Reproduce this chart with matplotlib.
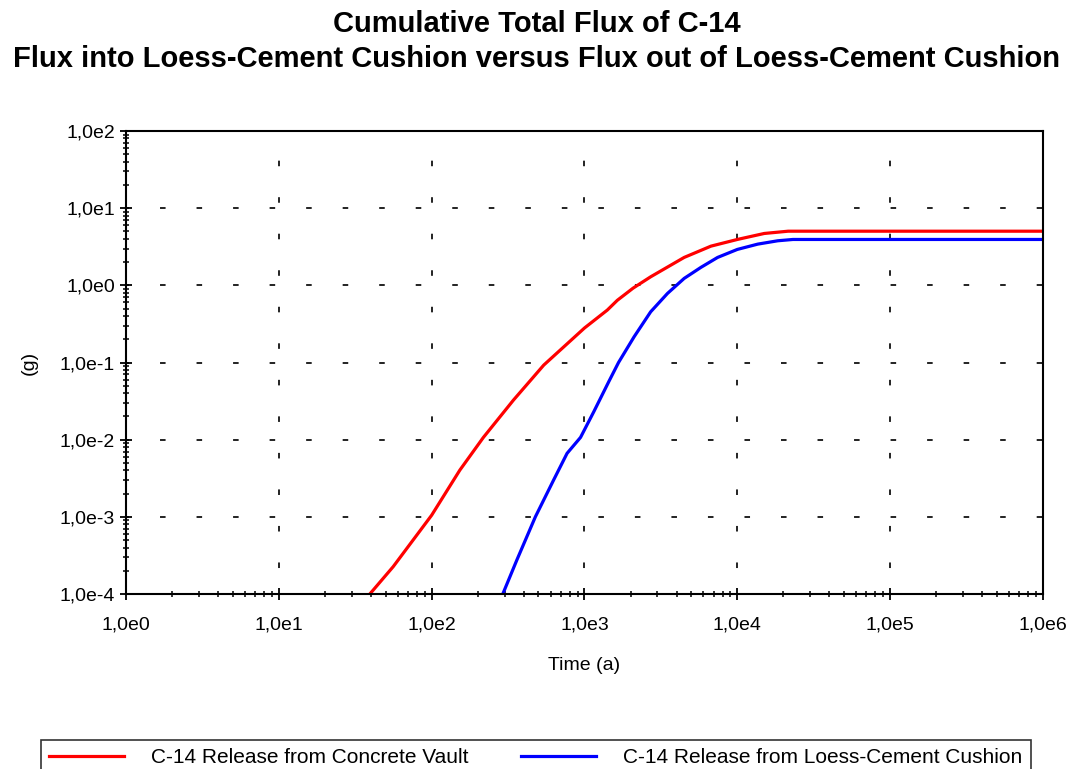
import math
import matplotlib.pyplot as plt
from matplotlib.ticker import LogLocator, FuncFormatter, NullFormatter

plt.rcParams['font.family'] = ['Liberation Sans', 'DejaVu Sans']
plt.rcParams['lines.scale_dashes'] = False

# cumulative flux (time in years, mass in g)
vault_t = [39.4, 56, 100, 153, 218, 343, 541, 1000, 1410, 1640, 2080, 2710,
           4490, 6720, 10000, 15000, 21500, 1e6]
vault_g = [1e-4, 2.26e-4, 1.05e-3, 4.04e-3, 1.07e-2, 3.26e-2, 9.25e-2, 0.28,
           0.478, 0.64, 0.92, 1.29, 2.30, 3.22, 3.93, 4.70, 5.03, 5.03]

cushion_t = [292, 361, 477, 628, 769, 942, 1150, 1445, 1670, 2110, 2710, 3490,
             4490, 5780, 7430, 10000, 13600, 18400, 23100, 1e6]
cushion_g = [1e-4, 2.76e-4, 1e-3, 3.0e-3, 6.65e-3, 1.07e-2, 2.3e-2, 5.7e-2,
             0.1, 0.215, 0.454, 0.785, 1.23, 1.71, 2.30, 2.92, 3.42, 3.78,
             3.93, 3.93]

x_decades = [1e0, 1e1, 1e2, 1e3, 1e4, 1e5, 1e6]
y_decades = [1e-4, 1e-3, 1e-2, 1e-1, 1e0, 1e1, 1e2]

labels = ['C-14 Release from Concrete Vault', 'C-14 Release from Loess-Cement Cushion']

fig = plt.figure(figsize=(10.73, 7.69), dpi=100)
ax = fig.add_axes([126 / 1073, 1 - 594 / 769, 917 / 1073, 463 / 769])

ax.plot(vault_t, vault_g, color='#ff0000', lw=2.3, label=labels[0])
ax.plot(cushion_t, cushion_g, color='#0000ff', lw=2.3, label=labels[1])

ax.set_xscale('log')
ax.set_yscale('log')
ax.set_xlim(x_decades[0], x_decades[-1])
ax.set_ylim(y_decades[0], y_decades[-1])

fmt = FuncFormatter(lambda v, p: '1,0e%d' % round(math.log10(v)))
ax.set_xticks(x_decades)
ax.set_yticks(y_decades)
ax.xaxis.set_minor_locator(LogLocator(base=10, subs=range(2, 10), numticks=20))
ax.yaxis.set_minor_locator(LogLocator(base=10, subs=range(2, 10), numticks=20))
ax.xaxis.set_major_formatter(fmt)
ax.yaxis.set_major_formatter(fmt)
ax.xaxis.set_minor_formatter(NullFormatter())
ax.yaxis.set_minor_formatter(NullFormatter())

ax.tick_params(which='major', direction='inout', length=8, width=1.3, labelsize=14)
ax.tick_params(axis='x', which='major', pad=12)
ax.tick_params(axis='y', which='major', pad=4)
ax.tick_params(which='minor', direction='inout', length=5, width=1.1)
for s in ax.spines.values():
    s.set_linewidth(1.5)

# sparse dashed grid, as in the original chart
ax.yaxis.grid(True, which='major', color='#222222', lw=1.4, linestyle=(1.8, (4.0, 22.3)))
ax.xaxis.grid(True, which='major', color='#222222', lw=1.4, linestyle=(7.6, (4.0, 22.3)))

ax.set_xlabel('Time (a)', fontsize=14, labelpad=17)
ax.set_ylabel('(g)', fontsize=14, labelpad=16)

fig.suptitle('Cumulative Total Flux of C-14\n'
             'Flux into Loess-Cement Cushion versus Flux out of Loess-Cement Cushion',
             fontsize=21, fontweight='bold', y=1 - 10 / 769, va='top', linespacing=1.3)

leg = fig.legend(loc='upper left', bbox_to_anchor=(41 / 1073, 1 - 740 / 769),
                 ncol=2, fontsize=15, frameon=True, fancybox=False,
                 edgecolor='black', handlelength=3.6, handletextpad=1.3,
                 columnspacing=2.5, borderpad=0.4, borderaxespad=0)
leg.get_frame().set_linewidth(1.2)

fig.savefig('out.png', dpi=100)
